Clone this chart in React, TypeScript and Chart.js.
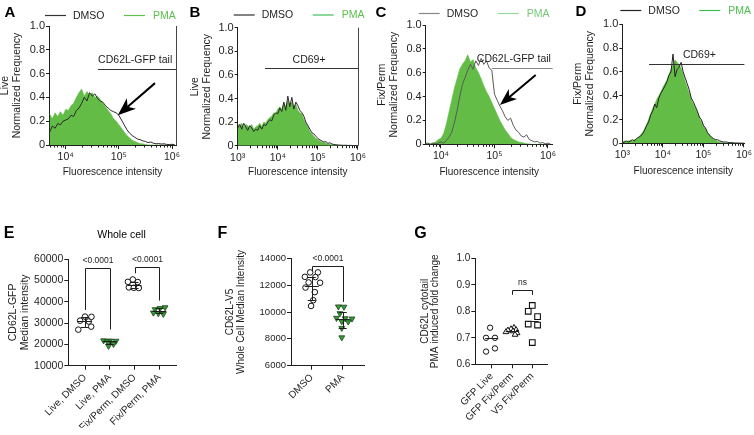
import React, { useEffect, useRef } from 'react';
import { Chart, registerables } from 'chart.js';

Chart.register(...registerables);

const FONT = '"Liberation Sans", Arial, Helvetica, sans-serif';
const INK = '#1e1e1e';
const GREEN = '#62bc46';

// ---------- Flow histograms: bin centres in log10(fluorescence) ----------
const logBinsTail = [
  3.70, 3.75, 3.80, 3.85, 3.90, 3.95, 4.00, 4.05, 4.10, 4.15,
  4.20, 4.25, 4.30, 4.35, 4.40, 4.45, 4.50, 4.55, 4.60, 4.65,
  4.70, 4.75, 4.80, 4.85, 4.90, 4.95, 5.00, 5.05, 5.10, 5.15,
  5.20, 5.25, 5.30, 5.35, 5.40, 5.45, 5.50, 5.55, 5.60, 5.65,
  5.70, 5.75, 5.80, 5.85, 5.90, 5.95, 6.00, 6.05,
];
const liveTailDmso = [
  0.11, 0.16, 0.14, 0.18, 0.17, 0.20, 0.21, 0.22, 0.25, 0.24,
  0.29, 0.31, 0.35, 0.40, 0.37, 0.44, 0.41, 0.43, 0.39, 0.37,
  0.36, 0.33, 0.31, 0.29, 0.28, 0.27, 0.25, 0.21, 0.17, 0.13,
  0.10, 0.08, 0.065, 0.05, 0.045, 0.035, 0.03, 0.02, 0.025, 0.015,
  0.01, 0.012, 0.008, 0.01, 0.005, 0.004, 0.006, 0.002,
];
const liveTailPma = [
  0.26, 0.22, 0.27, 0.24, 0.28, 0.25, 0.30, 0.29, 0.33, 0.35,
  0.40, 0.44, 0.47, 0.41, 0.45, 0.42, 0.44, 0.40, 0.41, 0.38,
  0.35, 0.32, 0.29, 0.26, 0.22, 0.20, 0.17, 0.14, 0.11, 0.08,
  0.06, 0.04, 0.03, 0.02, 0.01, 0.01, 0.005, 0, 0, 0,
  0, 0, 0, 0, 0, 0, 0, 0,
];
const fixTailDmso = [
  0.005, 0.01, 0, 0.01, 0.005, 0.01, 0.02, 0.01, 0.03, 0.06,
  0.10, 0.18, 0.28, 0.40, 0.50, 0.56, 0.62, 0.67, 0.63, 0.70,
  0.66, 0.72, 0.67, 0.70, 0.64, 0.62, 0.42, 0.37, 0.32, 0.28,
  0.23, 0.20, 0.22, 0.16, 0.12, 0.10, 0.07, 0.06, 0.08, 0.04,
  0.03, 0.02, 0.025, 0.01, 0.015, 0.005, 0.01, 0,
];
const fixTailPma = [
  0, 0.01, 0.005, 0.01, 0.02, 0.04, 0.05, 0.09, 0.17, 0.27,
  0.37, 0.47, 0.55, 0.63, 0.67, 0.70, 0.75, 0.69, 0.71, 0.64,
  0.60, 0.55, 0.49, 0.44, 0.40, 0.35, 0.30, 0.25, 0.20, 0.16,
  0.12, 0.09, 0.06, 0.04, 0.03, 0.02, 0.015, 0.01, 0.005, 0.003,
  0, 0, 0, 0, 0, 0, 0, 0,
];

const logBinsCd69 = [
  3.00, 3.05, 3.10, 3.15, 3.20, 3.25, 3.30, 3.35, 3.40, 3.45,
  3.50, 3.55, 3.60, 3.65, 3.70, 3.75, 3.80, 3.85, 3.90, 3.95,
  4.00, 4.05, 4.10, 4.15, 4.20, 4.25, 4.30, 4.35, 4.40, 4.45,
  4.50, 4.55, 4.60, 4.65, 4.70, 4.75, 4.80, 4.85, 4.90, 4.95,
  5.00, 5.05, 5.10, 5.15, 5.20, 5.25, 5.30, 5.35, 5.40, 5.45,
  5.50, 5.55, 5.60, 5.65, 5.70, 5.75, 5.80, 5.85, 5.90, 5.95,
  6.00,
];
const liveCd69Dmso = [
  0.15, 0.18, 0.14, 0.19, 0.16, 0.13, 0.17, 0.15, 0.12, 0.14,
  0.13, 0.17, 0.14, 0.18, 0.17, 0.20, 0.22, 0.21, 0.26, 0.28,
  0.27, 0.32, 0.29, 0.37, 0.30, 0.42, 0.33, 0.41, 0.31, 0.37,
  0.34, 0.30, 0.28, 0.25, 0.20, 0.17, 0.14, 0.11, 0.10, 0.08,
  0.06, 0.05, 0.04, 0.03, 0.035, 0.02, 0.025, 0.015, 0.01, 0.008,
  0.006, 0.005, 0.004, 0.003, 0.004, 0.002, 0.003, 0.002, 0.001, 0.001,
  0,
];
const liveCd69Pma = [
  0.18, 0.17, 0.19, 0.16, 0.18, 0.17, 0.15, 0.18, 0.14, 0.16,
  0.17, 0.19, 0.16, 0.20, 0.19, 0.22, 0.24, 0.25, 0.28, 0.27,
  0.31, 0.33, 0.30, 0.36, 0.33, 0.38, 0.35, 0.37, 0.33, 0.35,
  0.30, 0.28, 0.27, 0.22, 0.19, 0.16, 0.12, 0.10, 0.08, 0.06,
  0.05, 0.04, 0.03, 0.025, 0.02, 0.015, 0.01, 0.008, 0.006, 0.004,
  0.003, 0.002, 0.001, 0, 0, 0, 0, 0, 0, 0,
  0,
];
const fixCd69Dmso = [
  0.005, 0.01, 0.02, 0.01, 0.02, 0.03, 0.02, 0.04, 0.05, 0.06,
  0.08, 0.11, 0.15, 0.18, 0.24, 0.27, 0.33, 0.30, 0.38, 0.42,
  0.45, 0.48, 0.52, 0.57, 0.60, 0.75, 0.56, 0.62, 0.64, 0.68,
  0.60, 0.55, 0.50, 0.45, 0.38, 0.35, 0.31, 0.27, 0.22, 0.20,
  0.15, 0.13, 0.09, 0.07, 0.05, 0.04, 0.03, 0.03, 0.02, 0.015,
  0.01, 0.012, 0.008, 0.005, 0.006, 0.003, 0.002, 0.002, 0.001, 0.001,
  0,
];
const fixCd69Pma = [
  0.01, 0.02, 0.015, 0.02, 0.025, 0.02, 0.03, 0.035, 0.05, 0.07,
  0.09, 0.12, 0.16, 0.20, 0.25, 0.29, 0.33, 0.37, 0.40, 0.43,
  0.47, 0.50, 0.53, 0.58, 0.62, 0.66, 0.70, 0.68, 0.66, 0.63,
  0.58, 0.52, 0.47, 0.42, 0.37, 0.33, 0.30, 0.26, 0.22, 0.18,
  0.15, 0.12, 0.09, 0.07, 0.05, 0.035, 0.025, 0.015, 0.01, 0.007,
  0.004, 0.002, 0.001, 0, 0, 0, 0, 0, 0, 0,
  0,
];

const decadeTicks = [1000, 10000, 100000, 1000000];
const decadeLabels = ['10³', '10⁴', '10⁵', '10⁶'];
const freqTicks = [0, 0.2, 0.4, 0.6, 0.8, 1.0];

// ---------- E: whole-cell CD62L-GFP median intensity ----------
const gfpGroups = ['Live, DMSO', 'Live, PMA', 'Fix/Perm, DMSO', 'Fix/Perm, PMA'];
const gfpLiveDmso = [33000, 32900, 31100, 30700, 28300, 26900];
const gfpLivePma = [21800, 21700, 21600, 21300, 20100, 19200];
const gfpFixDmso = [50400, 49300, 49200, 46700, 46500, 46400];
const gfpFixPma = [37300, 36900, 36400, 34800, 34500, 34200];
const gfpMedian = [31000, 21450, 47950, 35600];
const gfpLow = [28300, 20100, 46500, 34500];
const gfpHigh = [32900, 21700, 49300, 36900];
const gfpTicks = [10000, 20000, 30000, 40000, 50000, 60000];
const gfpPValues = ['<0.0001', '<0.0001'];

// ---------- F: whole-cell CD62L-V5 median intensity ----------
const v5Groups = ['DMSO', 'PMA'];
const v5Dmso = [12950, 12950, 12620, 12600, 12200, 12180, 11820, 11480, 10880, 10450];
const v5Pma = [10400, 10380, 9900, 9550, 9520, 9500, 9300, 9280, 8800, 8100];
const v5Median = [11900, 9450];
const v5Low = [10900, 8800];
const v5High = [12600, 10000];
const v5Ticks = [6000, 8000, 10000, 12000, 14000];
const v5PValues = ['<0.0001'];

// ---------- G: PMA induced fold change ----------
const foldGroups = ['GFP Live', 'GFP Fix/Perm', 'V5 Fix/Perm'];
const foldGfpLive = [0.738, 0.70, 0.70, 0.66, 0.648];
const foldGfpFix = [0.738, 0.733, 0.73, 0.728, 0.725, 0.722, 0.718, 0.712];
const foldV5Fix = [0.822, 0.80, 0.78, 0.752, 0.748, 0.682];
const foldMedian = [0.70, 0.727, 0.762];
const foldTicks = [0.6, 0.7, 0.8, 0.9, 1.0];
const foldPValues = ['ns'];

// horizontal scatter of replicate dots inside a column (category units)
const spreadLiveDmso = [0.0, 0.26, -0.2, 0.15, 0.25, -0.27];
const spreadLivePma = [-0.25, 0.0, 0.25, -0.1, 0.15, -0.05];
const spreadFixDmso = [-0.07, -0.27, 0.13, -0.23, -0.03, 0.17];
const spreadFixPma = [0.23, 0.03, -0.17, -0.24, -0.04, 0.16];
const spreadV5Dmso = [-0.05, 0.2, -0.22, 0.12, -0.1, 0.27, -0.2, 0.1, 0.05, -0.02];
const spreadV5Pma = [-0.14, 0.04, -0.09, -0.2, 0.08, 0.3, -0.03, 0.18, -0.03, -0.03];
const spreadFoldLive = [-0.08, -0.28, 0.16, 0.16, -0.28];
const spreadFoldGfpFix = [0.1, -0.05, 0.2, -0.2, 0.05, -0.3, 0.25, 0.15];
const spreadFoldV5 = [0.0, -0.2, 0.26, -0.2, 0.26, 0.0];

type Area = { l: number; t: number; r: number; b: number };
type Box = { x: number; y: number; w: number; h: number };

function fitChartArea(chart: any, pad: any, target: Area) {
  for (let i = 0; i < 6; i++) {
    const ca = chart.chartArea;
    const dl = target.l - ca.left;
    const dt = target.t - ca.top;
    const dr = ca.right - target.r;
    const db = ca.bottom - target.b;
    if (Math.abs(dl) + Math.abs(dt) + Math.abs(dr) + Math.abs(db) < 0.05) break;
    pad.left += dl;
    pad.top += dt;
    pad.right += dr;
    pad.bottom += db;
    chart.update();
  }
}

function ChartCanvas({ box, area, build }: { box: Box; area: Area; build: (pad: any, local: Area) => any }) {
  const ref = useRef<HTMLCanvasElement | null>(null);
  useEffect(() => {
    const local = { l: area.l - box.x, t: area.t - box.y, r: area.r - box.x, b: area.b - box.y };
    const pad = { left: 0, top: local.t, right: box.w - local.r, bottom: 0 };
    const chart = new Chart(ref.current as HTMLCanvasElement, build(pad, local));
    fitChartArea(chart, pad, local);
    return () => chart.destroy();
  }, []);
  return (
    <canvas
      ref={ref}
      width={box.w}
      height={box.h}
      style={{ position: 'absolute', left: box.x, top: box.y, width: box.w, height: box.h }}
    />
  );
}

const crisp = (v: number) => Math.round(v) + 0.5;

function drawArrow(ctx: CanvasRenderingContext2D, x0: number, y0: number, x1: number, y1: number, head: number, half: number) {
  const len = Math.hypot(x1 - x0, y1 - y0);
  const ux = (x1 - x0) / len;
  const uy = (y1 - y0) / len;
  const nx = -uy;
  const ny = ux;
  const bx = x1 - ux * head;
  const by = y1 - uy * head;
  ctx.strokeStyle = '#000';
  ctx.fillStyle = '#000';
  ctx.lineWidth = 2;
  ctx.beginPath();
  ctx.moveTo(x0, y0);
  ctx.lineTo(x1 - ux * head * 0.6, y1 - uy * head * 0.6);
  ctx.stroke();
  ctx.beginPath();
  ctx.moveTo(x1, y1);
  ctx.lineTo(bx + nx * half, by + ny * half);
  ctx.lineTo(x1 - ux * head * 0.72, y1 - uy * head * 0.72);
  ctx.lineTo(bx - nx * half, by - ny * half);
  ctx.closePath();
  ctx.fill();
}

function histogramExtras(h: any) {
  return {
    id: 'histogramExtras',
    afterDraw(chart: any) {
      const { ctx, chartArea: ca } = chart;
      const x = chart.scales.x;
      const y = chart.scales.y;
      ctx.save();
      ctx.strokeStyle = INK;
      ctx.lineWidth = 1;
      // minor decade ticks
      ctx.beginPath();
      for (let d = Math.floor(h.xMin); d < Math.ceil(h.xMax); d++) {
        for (let k = 2; k <= 9; k++) {
          const v = k * 10 ** d;
          if (v < x.min || v > x.max) continue;
          const px = crisp(x.getPixelForValue(v));
          ctx.moveTo(px, ca.bottom);
          ctx.lineTo(px, ca.bottom + 2.5);
        }
      }
      ctx.stroke();
      // right-hand frame edge
      if (h.framed) {
        ctx.strokeStyle = '#444';
        ctx.beginPath();
        ctx.moveTo(crisp(ca.right), ca.top);
        ctx.lineTo(crisp(ca.right), ca.bottom);
        ctx.stroke();
      }
      // gate
      const g = h.gate;
      const gy = crisp(y.getPixelForValue(g.y));
      ctx.strokeStyle = g.color;
      ctx.beginPath();
      ctx.moveTo(x.getPixelForValue(10 ** g.from), gy);
      ctx.lineTo(ca.right, gy);
      ctx.stroke();
      ctx.fillStyle = INK;
      ctx.font = `10.5px ${FONT}`;
      ctx.textBaseline = 'middle';
      ctx.textAlign = g.align;
      ctx.fillText(g.label, x.getPixelForValue(10 ** g.at), gy - g.lift);
      // arrow
      if (h.arrow) {
        const a = h.arrow;
        drawArrow(
          ctx,
          x.getPixelForValue(10 ** a.tail[0]), y.getPixelForValue(a.tail[1]),
          x.getPixelForValue(10 ** a.tip[0]), y.getPixelForValue(a.tip[1]),
          a.head, a.half,
        );
      }
      // legend
      const lg = h.legend;
      const L = ca.left + lg.dx;
      const ds = chart.data.datasets;
      ctx.lineWidth = 1.2;
      ctx.strokeStyle = lg.dmso;
      ctx.beginPath();
      ctx.moveTo(L, lg.y + 0.5);
      ctx.lineTo(L + 21, lg.y + 0.5);
      ctx.stroke();
      ctx.strokeStyle = lg.pma;
      ctx.beginPath();
      ctx.moveTo(L + 79, lg.y + 0.5);
      ctx.lineTo(L + 100, lg.y + 0.5);
      ctx.stroke();
      ctx.textAlign = 'left';
      ctx.font = `10.5px ${FONT}`;
      ctx.fillStyle = INK;
      ctx.fillText(ds[0].label, L + 28, lg.y + 1);
      ctx.fillStyle = lg.pmaText;
      ctx.fillText(ds[1].label, L + 108, lg.y + 1);
      ctx.restore();
    },
  };
}

function buildHistogram(h: any) {
  return (pad: any, local: Area) => {
    const yLine = 12.6;
    pad.left = h.yTitleX - h.box.x - yLine / 2;
    const yW = local.l - pad.left;
    const xH = h.xTitleY - h.box.y + 6 - local.b;
    pad.bottom = h.box.h - local.b - xH;
    return {
      type: 'line',
      data: {
        datasets: [
          {
            label: 'DMSO',
            data: h.bins.map((b: number, i: number) => ({ x: 10 ** b, y: h.dmso[i] })),
            borderColor: h.dmsoColor,
            borderWidth: 1,
            borderJoinStyle: 'round',
            pointRadius: 0,
            fill: false,
            tension: 0,
          },
          {
            label: 'PMA',
            data: h.bins.map((b: number, i: number) => ({ x: 10 ** b, y: h.pma[i] })),
            borderColor: h.pmaColor,
            backgroundColor: h.pmaColor,
            borderWidth: 0.6,
            pointRadius: 0,
            fill: 'origin',
            tension: 0,
          },
        ],
      },
      options: {
        responsive: false,
        maintainAspectRatio: false,
        animation: false,
        events: [],
        layout: { padding: pad },
        plugins: { legend: { display: false }, tooltip: { enabled: false }, title: { display: false } },
        scales: {
          x: {
            type: 'logarithmic',
            position: 'bottom',
            min: 10 ** h.xMin,
            max: 10 ** h.xMax,
            afterBuildTicks: (s: any) => {
              s.ticks = decadeTicks
                .filter((v) => v >= s.min * 0.999 && v <= s.max * 1.001)
                .map((v) => ({ value: v, major: true }));
            },
            afterFit: (s: any) => {
              s.height = xH;
            },
            ticks: {
              autoSkip: false,
              maxRotation: 0,
              minRotation: 0,
              padding: 2,
              color: INK,
              font: { family: FONT, size: 10.5 },
              callback: (v: number) => decadeLabels[decadeTicks.indexOf(v)] ?? '',
            },
            grid: { drawOnChartArea: false, drawTicks: true, tickLength: 4, color: INK, lineWidth: 1 },
            border: { display: true, color: INK, width: 1 },
            title: {
              display: true,
              text: 'Fluorescence intensity',
              color: INK,
              font: { family: FONT, size: 10, lineHeight: 1.2 },
              padding: 0,
            },
          },
          y: {
            min: 0,
            max: 1,
            afterBuildTicks: (s: any) => {
              s.ticks = freqTicks.map((v) => ({ value: v }));
            },
            afterFit: (s: any) => {
              s.width = yW;
            },
            ticks: {
              padding: 1,
              color: INK,
              font: { family: FONT, size: 11 },
              callback: (v: number) => (v === 0 ? '0' : v.toFixed(1)),
            },
            grid: { drawOnChartArea: false, drawTicks: true, tickLength: 3, color: INK },
            border: { display: true, color: INK, width: 1 },
            title: {
              display: true,
              text: h.yTitle,
              color: INK,
              font: { family: FONT, size: 10.5, lineHeight: 1.2 },
              padding: 0,
            },
          },
        },
      },
      plugins: [histogramExtras(h)],
    };
  };
}

function dotPlotExtras(s: any) {
  return {
    id: 'dotPlotExtras',
    afterDatasetsDraw(chart: any) {
      const { ctx } = chart;
      const x = chart.scales.x;
      const y = chart.scales.y;
      ctx.save();
      ctx.strokeStyle = INK;
      ctx.lineWidth = 1;
      s.median.forEach((m: number, i: number) => {
        const cx = x.getPixelForValue(i);
        const my = crisp(y.getPixelForValue(m));
        ctx.beginPath();
        ctx.moveTo(cx - s.medHalf, my);
        ctx.lineTo(cx + s.medHalf, my);
        if (s.low) {
          const ly = crisp(y.getPixelForValue(s.low[i]));
          const hy = crisp(y.getPixelForValue(s.high[i]));
          const vx = crisp(cx);
          ctx.moveTo(vx, ly);
          ctx.lineTo(vx, hy);
          ctx.moveTo(cx - s.capHalf, ly);
          ctx.lineTo(cx + s.capHalf, ly);
          ctx.moveTo(cx - s.capHalf, hy);
          ctx.lineTo(cx + s.capHalf, hy);
        }
        ctx.stroke();
      });
      ctx.font = `${s.pSize}px ${FONT}`;
      ctx.fillStyle = INK;
      ctx.textAlign = 'center';
      ctx.textBaseline = 'middle';
      s.brackets.forEach((b: any) => {
        const xa = crisp(x.getPixelForValue(b.a));
        const xb = crisp(x.getPixelForValue(b.b));
        const ty = crisp(y.getPixelForValue(b.top));
        ctx.beginPath();
        ctx.moveTo(xa, y.getPixelForValue(b.leftEnd));
        ctx.lineTo(xa, ty);
        ctx.lineTo(xb, ty);
        ctx.lineTo(xb, y.getPixelForValue(b.rightEnd));
        ctx.stroke();
        ctx.fillText(b.label, (xa + xb) / 2, ty - 8);
      });
      ctx.restore();
    },
  };
}

function buildDotPlot(s: any) {
  return (pad: any, local: Area) => {
    pad.left = s.yTitleX - s.box.x - (s.titleSize * s.titleLH) / 2;
    const yW = local.l - pad.left;
    const xH = 62;
    pad.bottom = s.box.h - local.b - xH;
    return {
      type: 'scatter',
      data: {
        datasets: s.groups.map((g: any, gi: number) => ({
          label: s.names[gi],
          data: g.values.map((v: number, i: number) => ({ x: gi + g.spread[i], y: v })),
          pointStyle: g.style,
          pointRotation: g.rotation || 0,
          pointRadius: g.radius,
          pointBackgroundColor: g.fill,
          pointBorderColor: g.stroke,
          pointBorderWidth: g.bw,
          backgroundColor: g.fill,
          borderColor: g.stroke,
          showLine: false,
        })),
      },
      options: {
        responsive: false,
        maintainAspectRatio: false,
        animation: false,
        events: [],
        layout: { padding: pad },
        plugins: { legend: { display: false }, tooltip: { enabled: false }, title: { display: false } },
        scales: {
          x: {
            type: 'linear',
            position: 'bottom',
            min: s.xMin,
            max: s.xMax,
            afterBuildTicks: (sc: any) => {
              sc.ticks = s.names.map((_: string, i: number) => ({ value: i }));
            },
            afterFit: (sc: any) => {
              sc.height = xH;
            },
            ticks: {
              autoSkip: false,
              minRotation: 45,
              maxRotation: 45,
              padding: 2,
              color: INK,
              font: { family: FONT, size: s.catSize },
              callback: (v: number) => s.names[Math.round(v)] ?? '',
            },
            grid: { drawOnChartArea: false, drawTicks: true, tickLength: 4, color: INK },
            border: { display: true, color: INK, width: 1 },
          },
          y: {
            min: s.yMin,
            max: s.yMax,
            afterBuildTicks: (sc: any) => {
              sc.ticks = s.ticks.map((v: number) => ({ value: v }));
            },
            afterFit: (sc: any) => {
              sc.width = yW;
            },
            ticks: {
              padding: 1,
              color: INK,
              font: { family: FONT, size: s.tickSize },
              callback: (v: number) => s.fmt(v),
            },
            grid: { drawOnChartArea: false, drawTicks: true, tickLength: 4, color: INK },
            border: { display: true, color: INK, width: 1 },
            title: {
              display: true,
              text: s.yTitle,
              color: INK,
              font: { family: FONT, size: s.titleSize, lineHeight: s.titleLH },
              padding: 0,
            },
          },
        },
      },
      plugins: [dotPlotExtras(s)],
    };
  };
}

const OPEN_CIRCLE = { style: 'circle', radius: 2.8, fill: '#ffffff', stroke: '#111', bw: 1 };
const GREEN_DOWN = { style: 'triangle', rotation: 180, radius: 3.4, fill: '#34a034', stroke: '#1d3d1d', bw: 0.8 };

const histPanels = [
  {
    key: 'A',
    box: { x: -2, y: 0, w: 187, h: 200 },
    area: { l: 49, t: 26, r: 176, b: 145 },
    yTitle: ['Live', 'Normalized Frequency'],
    yTitleX: 5,
    xTitleY: 172.3,
    bins: logBinsTail,
    dmso: liveTailDmso,
    pma: liveTailPma,
    xMin: 3.686,
    xMax: 6.075,
    dmsoColor: '#2a2a2a',
    pmaColor: GREEN,
    framed: true,
    gate: { from: 4.61, y: 0.64, label: 'CD62L-GFP tail', at: 4.61, align: 'left', lift: 9, color: '#333' },
    arrow: { tail: [5.68, 0.52], tip: [4.98, 0.25], head: 18, half: 7 },
    legend: { dx: -4, y: 15, dmso: '#333', pma: '#62c050', pmaText: '#5cbf4a' },
  },
  {
    key: 'B',
    box: { x: 185, y: 0, w: 183, h: 200 },
    area: { l: 237.7, t: 27.7, r: 363, b: 145.7 },
    yTitle: ['Live', 'Normalized Frequency'],
    yTitleX: 195,
    xTitleY: 172.3,
    bins: logBinsCd69,
    dmso: liveCd69Dmso,
    pma: liveCd69Pma,
    xMin: 3,
    xMax: 6,
    dmsoColor: '#2a2a2a',
    pmaColor: GREEN,
    framed: true,
    gate: { from: 3.68, y: 0.66, label: 'CD69+', at: 4.78, align: 'center', lift: 8, color: '#333' },
    arrow: null,
    legend: { dx: -4, y: 14.5, dmso: '#333', pma: '#3fbf5a', pmaText: '#5cbf4a' },
  },
  {
    key: 'C',
    box: { x: 368, y: 0, w: 192, h: 200 },
    area: { l: 425.7, t: 25, r: 552.7, b: 144.3 },
    yTitle: ['Fix/Perm', 'Normalized Frequency'],
    yTitleX: 381.7,
    xTitleY: 172.3,
    bins: logBinsTail,
    dmso: fixTailDmso,
    pma: fixTailPma,
    xMin: 3.714,
    xMax: 6.088,
    dmsoColor: '#5a5a5a',
    pmaColor: GREEN,
    framed: false,
    gate: { from: 4.95, y: 0.642, label: 'CD62L-GFP tail', at: 4.67, align: 'left', lift: 9.5, color: '#888' },
    arrow: { tail: [5.77, 0.58], tip: [5.1, 0.33], head: 17, half: 6.5 },
    legend: { dx: -7, y: 13, dmso: '#888', pma: '#9ad89a', pmaText: '#74c874' },
  },
  {
    key: 'D',
    box: { x: 560, y: 0, w: 194, h: 200 },
    area: { l: 622.3, t: 24.3, r: 747.7, b: 143.3 },
    yTitle: ['Fix/Perm', 'Normalized Frequency'],
    yTitleX: 578,
    xTitleY: 171.7,
    bins: logBinsCd69,
    dmso: fixCd69Dmso,
    pma: fixCd69Pma,
    xMin: 3,
    xMax: 6.01,
    dmsoColor: '#222',
    pmaColor: GREEN,
    framed: false,
    gate: { from: 3.66, y: 0.664, label: 'CD69+', at: 4.9, align: 'center', lift: 9, color: '#333' },
    arrow: null,
    legend: { dx: -2, y: 10, dmso: '#222', pma: '#35c05a', pmaText: '#4cbf4c' },
  },
];

const dotPanels = [
  {
    key: 'E',
    box: { x: 0, y: 205, w: 215, h: 230 },
    area: { l: 68.3, t: 259, r: 176.7, b: 365.7 },
    yTitle: ['CD62L-GFP', 'Median intensity'],
    yTitleX: 13,
    titleSize: 10.5,
    titleLH: 1.2,
    tickSize: 10.5,
    catSize: 10,
    names: gfpGroups,
    xMin: -0.674,
    xMax: 3.7,
    yMin: 10000,
    yMax: 60000,
    ticks: gfpTicks,
    fmt: (v: number) => String(v),
    groups: [
      { values: gfpLiveDmso, spread: spreadLiveDmso, ...OPEN_CIRCLE },
      { values: gfpLivePma, spread: spreadLivePma, ...GREEN_DOWN },
      { values: gfpFixDmso, spread: spreadFixDmso, ...OPEN_CIRCLE },
      { values: gfpFixPma, spread: spreadFixPma, ...GREEN_DOWN },
    ],
    median: gfpMedian,
    low: gfpLow,
    high: gfpHigh,
    medHalf: 7,
    capHalf: 4,
    pSize: 8.5,
    brackets: [
      { a: 0, b: 1, top: 55600, leftEnd: 36100, rightEnd: 27000, label: gfpPValues[0] },
      { a: 2, b: 3, top: 56100, leftEnd: 53300, rightEnd: 40500, label: gfpPValues[1] },
    ],
  },
  {
    key: 'F',
    box: { x: 215, y: 205, w: 190, h: 230 },
    area: { l: 291, t: 258.3, r: 364, b: 365.7 },
    yTitle: ['CD62L-V5', 'Whole Cell Median Intensity'],
    yTitleX: 230,
    titleSize: 10,
    titleLH: 1.1,
    tickSize: 9.5,
    catSize: 10,
    names: v5Groups,
    xMin: -0.668,
    xMax: 1.687,
    yMin: 6000,
    yMax: 14000,
    ticks: v5Ticks,
    fmt: (v: number) => String(v),
    groups: [
      { values: v5Dmso, spread: spreadV5Dmso, ...OPEN_CIRCLE },
      { values: v5Pma, spread: spreadV5Pma, ...GREEN_DOWN },
    ],
    median: v5Median,
    low: v5Low,
    high: v5High,
    medHalf: 7,
    capHalf: 4,
    pSize: 8.5,
    brackets: [{ a: 0, b: 1, top: 13430, leftEnd: 13050, rightEnd: 10750, label: v5PValues[0] }],
  },
  {
    key: 'G',
    box: { x: 405, y: 205, w: 175, h: 230 },
    area: { l: 475.3, t: 258.3, r: 547.7, b: 364.3 },
    yTitle: ['CD62L cytotail', 'PMA induced fold change'],
    yTitleX: 425,
    titleSize: 10,
    titleLH: 1.0,
    tickSize: 10,
    catSize: 10,
    names: foldGroups,
    xMin: -0.81,
    xMax: 2.76,
    yMin: 0.6,
    yMax: 1.0,
    ticks: foldTicks,
    fmt: (v: number) => v.toFixed(1),
    groups: [
      { values: foldGfpLive, spread: spreadFoldLive, style: 'circle', radius: 2.7, fill: '#fff', stroke: '#111', bw: 1 },
      { values: foldGfpFix, spread: spreadFoldGfpFix, style: 'triangle', radius: 3.3, fill: '#fff', stroke: '#111', bw: 1 },
      { values: foldV5Fix, spread: spreadFoldV5, style: 'rect', radius: 4, fill: '#fff', stroke: '#111', bw: 1.1 },
    ],
    median: foldMedian,
    low: null,
    high: null,
    medHalf: 6.5,
    capHalf: 0,
    pSize: 8.5,
    brackets: [{ a: 1, b: 2, top: 0.88, leftEnd: 0.862, rightEnd: 0.862, label: foldPValues[0] }],
  },
];

const captions = [
  { text: 'A', x: 10, y: 10.5, size: 15, bold: true },
  { text: 'B', x: 195, y: 10.5, size: 15, bold: true },
  { text: 'C', x: 381, y: 11, size: 15, bold: true },
  { text: 'D', x: 581, y: 9.5, size: 15, bold: true },
  { text: 'E', x: 9, y: 232.5, size: 16, bold: true },
  { text: 'F', x: 222.5, y: 232.5, size: 16, bold: true },
  { text: 'G', x: 420.5, y: 232.5, size: 16, bold: true },
  { text: 'Whole cell', x: 121.5, y: 234, size: 10.5, bold: false },
];

export default function App() {
  return (
    <div
      style={{
        position: 'absolute',
        left: 0,
        top: 0,
        width: 754,
        height: 435,
        background: '#ffffff',
        overflow: 'hidden',
      }}
    >
      {histPanels.map((h) => (
        <ChartCanvas key={h.key} box={h.box} area={h.area} build={buildHistogram(h)} />
      ))}
      {dotPanels.map((s) => (
        <ChartCanvas key={s.key} box={s.box} area={s.area} build={buildDotPlot(s)} />
      ))}
      {captions.map((c) => (
        <div
          key={c.text}
          style={{
            position: 'absolute',
            left: c.x,
            top: c.y,
            transform: 'translate(-50%, -50%)',
            fontFamily: FONT,
            fontSize: c.size,
            fontWeight: c.bold ? 700 : 400,
            lineHeight: 1,
            color: '#000',
            whiteSpace: 'nowrap',
          }}
        >
          {c.text}
        </div>
      ))}
    </div>
  );
}
